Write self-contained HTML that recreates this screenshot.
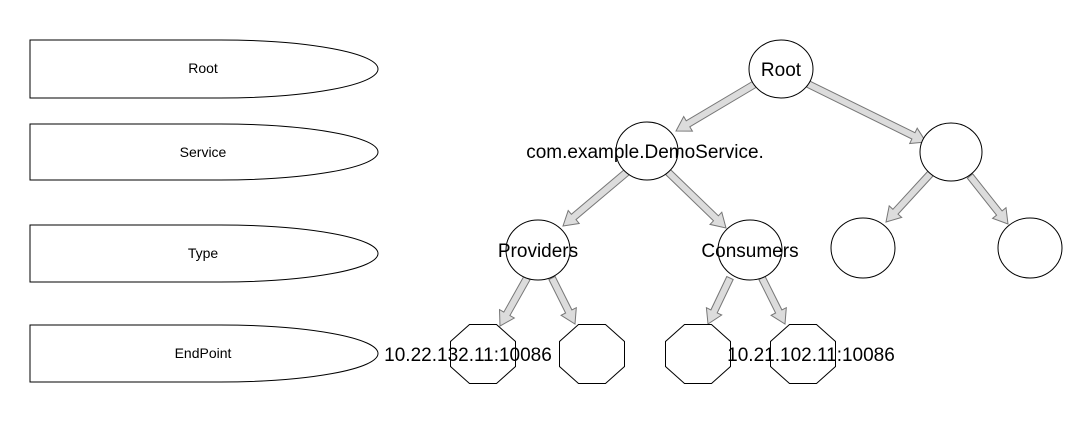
<!DOCTYPE html>
<html><head><meta charset="utf-8"><style>
html,body{margin:0;padding:0;background:#fff;}
svg{display:block;font-family:"Liberation Sans",Arial,sans-serif;}
</style></head><body>
<svg id="s" width="1088" height="448" viewBox="0 0 1088 448" xmlns="http://www.w3.org/2000/svg">
<g fill="#fff" stroke="#000" stroke-width="1">
<path d="M30,40 H220 A158,29 0 0 1 220,98 H30 Z"/>
<path d="M30,124 H220 A158,28 0 0 1 220,180 H30 Z"/>
<path d="M30,225 H220 A158,28.5 0 0 1 220,282 H30 Z"/>
<path d="M30,325 H220 A158,28.5 0 0 1 220,382 H30 Z"/>
</g>
<g font-size="14" text-anchor="middle" fill="#000">
<text x="203" y="73">Root</text>
<text x="203" y="157">Service</text>
<text x="203" y="258">Type</text>
<text x="203" y="358">EndPoint</text>
</g>
<g id="arrows"></g>
<g fill="#fff" stroke="#000" stroke-width="1">
<ellipse cx="781" cy="69" rx="32" ry="29"/>
<ellipse cx="647" cy="151" rx="31" ry="29"/>
<ellipse cx="951" cy="152" rx="31" ry="29"/>
<ellipse cx="538" cy="250" rx="32" ry="30"/>
<ellipse cx="750" cy="250" rx="32" ry="30"/>
<ellipse cx="863" cy="248" rx="32" ry="30"/>
<ellipse cx="1030" cy="248" rx="32" ry="30"/>
</g>
<g id="octs" fill="#fff" stroke="#000" stroke-width="1"></g>
<g font-size="19" text-anchor="middle" fill="#000">
<text x="781" y="76">Root</text>
<text x="645" y="158">com.example.DemoService.</text>
<text x="538" y="257">Providers</text>
<text x="750" y="257">Consumers</text>
<text x="468" y="361">10.22.132.11:10086</text>
<text x="811" y="361">10.21.102.11:10086</text>
</g>
</svg>
<script>
var NS="http://www.w3.org/2000/svg";
function arrow(x1,y1,x2,y2){
 var dx=x2-x1,dy=y2-y1,L=Math.sqrt(dx*dx+dy*dy),ux=dx/L,uy=dy/L,nx=-uy,ny=ux;
 var sw=3.5,hw=8.5,hl=14,bx=x2-ux*hl,by=y2-uy*hl;
 var p=[[x1+nx*sw,y1+ny*sw],[bx+nx*sw,by+ny*sw],[bx+nx*hw,by+ny*hw],[x2,y2],[bx-nx*hw,by-ny*hw],[bx-nx*sw,by-ny*sw],[x1-nx*sw,y1-ny*sw]];
 var e=document.createElementNS(NS,"polygon");
 e.setAttribute("points",p.map(function(q){return q[0].toFixed(1)+","+q[1].toFixed(1)}).join(" "));
 e.setAttribute("fill","#dcdcdc");e.setAttribute("stroke","#777");e.setAttribute("stroke-width","1");
 document.getElementById("arrows").appendChild(e);
}
arrow(755,84,676,131);arrow(808,84,926,142);
arrow(627,172,563,226);arrow(668,172,726,228);
arrow(931,173,886,222);arrow(970,176,1008,224);
arrow(527,278,500,326);arrow(552,278,575,324);
arrow(730,278,708,324);arrow(762,278,785,324);
function oct(cx,cy){
 var w=32.5,h=29.5,a=19,b=17;
 var p=[[cx-w+a,cy-h],[cx+w-a,cy-h],[cx+w,cy-h+b],[cx+w,cy+h-b],[cx+w-a,cy+h],[cx-w+a,cy+h],[cx-w,cy+h-b],[cx-w,cy-h+b]];
 var e=document.createElementNS(NS,"polygon");
 e.setAttribute("points",p.map(function(q){return q.join(",")}).join(" "));
 document.getElementById("octs").appendChild(e);
}
oct(483,354);oct(592,354);oct(698,354);oct(803,354);
</script>
</body></html>
